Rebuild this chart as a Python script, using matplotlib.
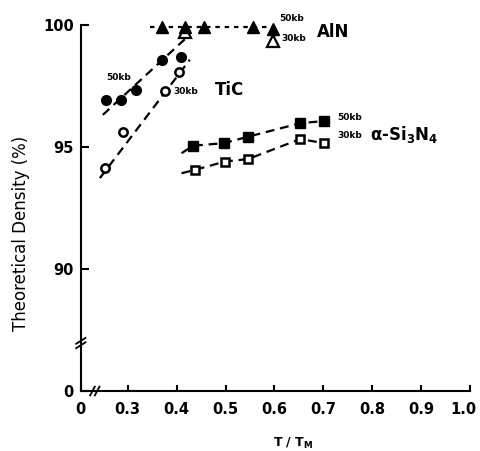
import matplotlib
matplotlib.use("Agg")
import matplotlib.pyplot as plt
import matplotlib.transforms as mtransforms

plt.rcParams['font.family'] = ['DejaVu Sans']
plt.rcParams['mathtext.default'] = 'regular'

## Data (T/Tm vs theoretical density in %)

# AlN, 50 kb (filled) and 30 kb (open)
aln_50_t = [0.370, 0.418, 0.457, 0.556, 0.598]
aln_50_d = [99.90, 99.90, 99.90, 99.90, 99.84]
aln_30_t = [0.418, 0.598]
aln_30_d = [99.72, 99.33]

# TiC, 50 kb (filled) and 30 kb (open)
tic_50_t = [0.255, 0.287, 0.316, 0.371, 0.409]
tic_50_d = [96.93, 96.93, 97.34, 98.54, 98.68]
tic_30_t = [0.253, 0.290, 0.377, 0.405]
tic_30_d = [94.13, 95.59, 97.27, 98.05]

# alpha-Si3N4, 50 kb (filled) and 30 kb (open)
si_50_t = [0.434, 0.496, 0.547, 0.653, 0.702]
si_50_d = [95.05, 95.15, 95.42, 95.97, 96.06]
si_30_t = [0.438, 0.499, 0.546, 0.653, 0.702]
si_30_d = [94.06, 94.40, 94.50, 95.32, 95.15]

# dashed guide lines drawn through the data
aln_line_t = [0.345, 0.598]
aln_line_d = [99.90, 99.90]
tic_50_line_t = [0.249, 0.419]
tic_50_line_d = [96.31, 99.45]
tic_30_line_t = [0.243, 0.427]
tic_30_line_d = [93.72, 98.57]
si_50_line_t = [0.410] + si_50_t
si_50_line_d = [94.74] + si_50_d
si_30_line_t = [0.410] + si_30_t
si_30_line_d = [93.92] + si_30_d

# axis ticks and labels (the axes are broken near the origin)
x_ticks = [0.204, 0.3, 0.4, 0.5, 0.6, 0.7, 0.8, 0.9, 1.0]
x_labels = ['0', '0.3', '0.4', '0.5', '0.6', '0.7', '0.8', '0.9', '1.0']
y_ticks = [85, 90, 95, 100]
y_labels = ['0', '90', '95', '100']

## Plot

fig = plt.figure(figsize=(4.81, 4.51), dpi=100)
ax = fig.add_axes([0.168, 0.133, 0.809, 0.812])

lw = 1.6
dash = (0, (4, 2.6))
short_dash = (0, (2, 2.2))

ax.plot(aln_line_t, aln_line_d, color='k', lw=lw, ls=short_dash, clip_on=False)
ax.plot(tic_50_line_t, tic_50_line_d, color='k', lw=lw, ls=dash, clip_on=False)
ax.plot(tic_30_line_t, tic_30_line_d, color='k', lw=lw, ls=dash, clip_on=False)
ax.plot(si_50_line_t, si_50_line_d, color='k', lw=lw, ls=dash, clip_on=False)
ax.plot(si_30_line_t, si_30_line_d, color='k', lw=lw, ls=dash, clip_on=False)

ax.plot(aln_30_t, aln_30_d, '^', ms=8, mfc='white', mec='k', mew=1.6, clip_on=False)
ax.plot(aln_50_t, aln_50_d, '^', ms=8, color='k', clip_on=False)
ax.plot(tic_50_t, tic_50_d, 'o', ms=7, color='k', clip_on=False)
ax.plot(tic_30_t, tic_30_d, 'o', ms=6, mfc='white', mec='k', mew=1.8, clip_on=False)
ax.plot(si_50_t, si_50_d, 's', ms=6.5, color='k', clip_on=False)
ax.plot(si_30_t, si_30_d, 's', ms=6, mfc='white', mec='k', mew=1.8, clip_on=False)

# labels next to the curves
small = dict(fontsize=6.5, fontweight='bold', va='center', ha='left')
ax.text(0.610, 100.25, '50kb', **small)
ax.text(0.614, 99.44, '30kb', **small)
ax.text(0.688, 99.70, 'AlN', fontsize=12, fontweight='bold', va='center')
ax.text(0.257, 97.85, '50kb', **small)
ax.text(0.393, 97.25, '30kb', **small)
ax.text(0.479, 97.32, 'TiC', fontsize=12, fontweight='bold', va='center')
ax.text(0.729, 96.20, '50kb', **small)
ax.text(0.729, 95.45, '30kb', **small)
ax.text(0.795, 95.52, 'α-Si$_3$N$_4$', fontsize=12, fontweight='bold', va='center')

ax.set_xlim(0.204, 1.0)
ax.set_ylim(85, 100)
ax.set_xticks(x_ticks)
ax.set_xticklabels(x_labels)
ax.set_yticks(y_ticks)
ax.set_yticklabels(y_labels)

for side in ['top', 'right']:
    ax.spines[side].set_visible(False)
for side in ['left', 'bottom']:
    ax.spines[side].set_linewidth(1.5)

ax.tick_params(axis='x', direction='in', length=4, width=1.5, pad=8, labelsize=10.5)
ax.tick_params(axis='y', direction='in', length=6, width=1.5, pad=5, labelsize=10.5)
for lab in ax.get_xticklabels() + ax.get_yticklabels():
    lab.set_fontweight('bold')

# last x label sits a bit left of its tick, at the picture's edge
last = ax.get_xticklabels()[-1]
last.set_transform(last.get_transform() +
                   mtransforms.ScaledTranslation(-7 / 100, 0, fig.dpi_scale_trans))

ax.set_xlabel('T / T$_M$', fontsize=9, fontweight='bold', va='center')
ax.xaxis.set_label_coords(0.545, -0.143)
ax.set_ylabel('Theoretical Density (%)', fontsize=12)
ax.yaxis.set_label_coords(-0.13, 0.43)

# axis break marks
trans = ax.transAxes
for off in [-0.006, 0.006]:
    ax.plot([-0.012, 0.012], [0.131 + off - 0.008, 0.131 + off + 0.008],
            color='k', lw=1.3, transform=trans, clip_on=False)
    ax.plot([0.036 + off - 0.006, 0.036 + off + 0.006], [-0.012, 0.012],
            color='k', lw=1.3, transform=trans, clip_on=False)

fig.savefig('out.png', dpi=100)
